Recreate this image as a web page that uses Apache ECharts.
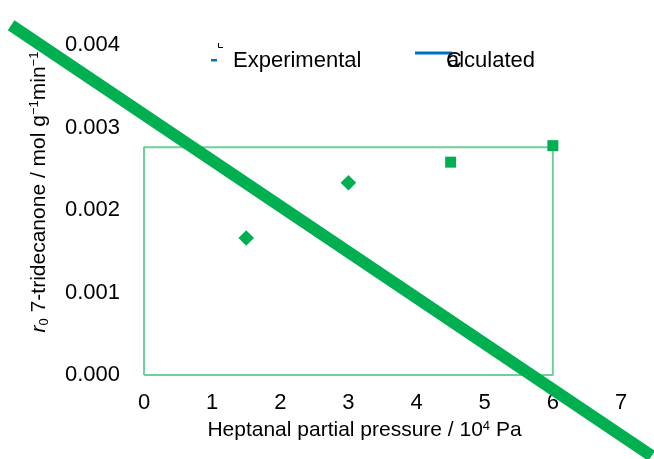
<!DOCTYPE html>
<html><head><meta charset="utf-8">
<script src="https://cdn.jsdelivr.net/npm/echarts@6/dist/echarts.min.js"></script>
<style>html,body{margin:0;padding:0;background:#fff}#c{width:654px;height:459px}</style>
</head><body><div id="c"></div>
<script>
// Data
var xTicks = [0, 1, 2, 3, 4, 5, 6, 7];
var yTicks = [0.000, 0.001, 0.002, 0.003, 0.004];
var expX = [1.5, 3.0, 4.5, 6.0];
var expY = [0.00166, 0.00233, 0.00258, 0.00278];
var calcX = [-1.95, 7.45];
var calcY = [0.00424, -0.00098];
var boxX = [0, 0, 6, 6, 0];
var boxY = [0, 0.00276, 0.00276, 0, 0];

var FONT = 'Liberation Sans, Arial, sans-serif';
var FS = 22;
var chart = echarts.init(document.getElementById('c'));
function pairs(xs, ys){ return xs.map(function(x,i){ return [x, ys[i]]; }); }

chart.setOption({
  animation: false,
  grid: { left: 144, right: 33, top: 45, bottom: 84 },
  xAxis: {
    type: 'value', min: xTicks[0], max: xTicks[xTicks.length-1], interval: 1,
    axisLine: { show: false }, axisTick: { show: false }, splitLine: { show: false },
    axisLabel: { color: '#000', fontSize: FS, fontFamily: FONT, margin: 17 },
    name: 'Heptanal partial pressure / 10{sup|4} Pa',
    nameLocation: 'middle', nameGap: 45,
    nameTextStyle: { color: '#000', fontSize: 21, fontFamily: FONT, padding: [0, 36, 0, 0],
      rich: { sup: { fontSize: 13, verticalAlign: 'top', color: '#000', fontFamily: FONT, padding: [0,0,8,0] } } }
  },
  yAxis: {
    type: 'value', min: yTicks[0], max: yTicks[yTicks.length-1], interval: 0.001,
    axisLine: { show: false }, axisTick: { show: false }, splitLine: { show: false },
    axisLabel: { color: '#000', fontSize: FS, fontFamily: FONT, margin: 24,
      formatter: function(v){ return v.toFixed(3); } },
    name: '{it|r}{sub|0} 7-tridecanone / mol g{sup|−1}min{sup|−1}',
    nameLocation: 'middle', nameGap: 93, nameRotate: 90,
    nameTextStyle: { color: '#000', fontSize: 21, fontFamily: FONT, padding: [0, 0, 0, 36],
      rich: {
        it: { fontStyle: 'italic', fontSize: 21, color: '#000', fontFamily: FONT },
        sub: { fontSize: 13, color: '#000', fontFamily: FONT, padding: [10,0,0,0] },
        sup: { fontSize: 13, color: '#000', fontFamily: FONT, padding: [0,0,10,0] }
      } }
  },
  series: [
    { type: 'line', data: pairs(boxX, boxY), symbol: 'none', silent: true, clip: false,
      lineStyle: { color: '#70d09a', width: 2 }, z: 1 },
    { type: 'custom', clip: false, silent: true, z: 3,
      data: [[calcX[0], calcY[0], calcX[1], calcY[1]]],
      renderItem: function(params, api){
        var p1 = api.coord([api.value(0), api.value(1)]);
        var p2 = api.coord([api.value(2), api.value(3)]);
        return { type: 'line', shape: { x1: p1[0], y1: p1[1], x2: p2[0], y2: p2[1] },
                 style: { stroke: '#00b050', lineWidth: 12, lineCap: 'butt' } };
      } },
    { type: 'scatter', data: pairs(expX, expY), clip: false,
      symbol: 'rect', symbolSize: 11,
      symbolRotate: function(v, p){ return p.dataIndex < 2 ? 45 : 0; },
      itemStyle: { color: '#00b050', opacity: 1 }, z: 4 }
  ],
  graphic: [
    { type: 'polyline', shape: { points: [[218.5,43],[218.5,47.5],[223,47.5]] }, style: { stroke: '#000', lineWidth: 1, fill: null } },
    { type: 'rect', shape: { x: 211, y: 59, width: 6, height: 2.5 }, style: { fill: '#0070c0' } },
    { type: 'text', left: 233, top: 50, style: { text: 'Experimental', fill: '#000', fontSize: FS, fontFamily: FONT } },
    { type: 'line', shape: { x1: 415, y1: 53, x2: 452, y2: 53 }, style: { stroke: '#0070c0', lineWidth: 3 } },
    { type: 'text', left: 446, top: 50, style: { text: 'C', fill: '#000', fontSize: FS, fontFamily: FONT } },
    { type: 'text', left: 447, top: 50, style: { text: 'alculated', fill: '#000', fontSize: FS, fontFamily: FONT } }
  ]
});
</script></body></html>
